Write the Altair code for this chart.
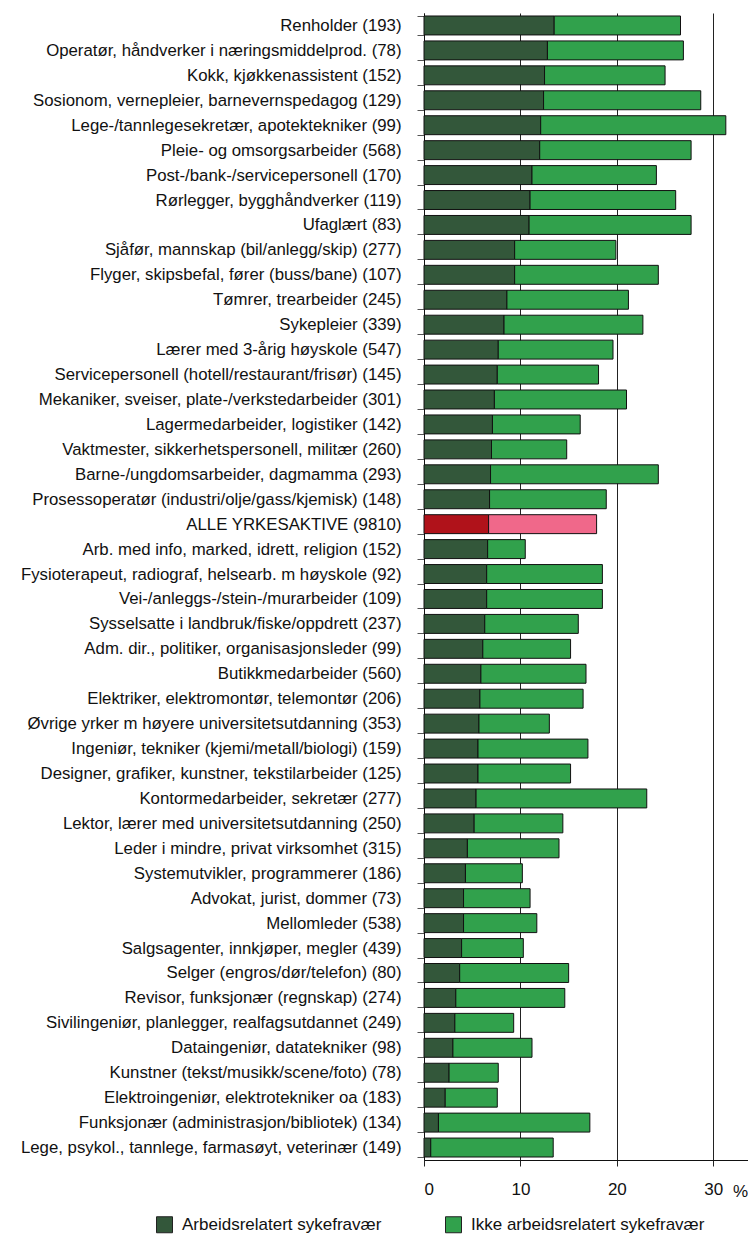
import altair as alt
import pandas as pd

categories = [
    "Renholder (193)",
    "Operatør, håndverker i næringsmiddelprod. (78)",
    "Kokk, kjøkkenassistent (152)",
    "Sosionom, vernepleier, barnevernspedagog (129)",
    "Lege-/tannlegesekretær, apotektekniker (99)",
    "Pleie- og omsorgsarbeider (568)",
    "Post-/bank-/servicepersonell (170)",
    "Rørlegger, bygghåndverker (119)",
    "Ufaglært (83)",
    "Sjåfør, mannskap (bil/anlegg/skip) (277)",
    "Flyger, skipsbefal, fører (buss/bane) (107)",
    "Tømrer, trearbeider (245)",
    "Sykepleier (339)",
    "Lærer med 3-årig høyskole (547)",
    "Servicepersonell (hotell/restaurant/frisør) (145)",
    "Mekaniker, sveiser, plate-/verkstedarbeider (301)",
    "Lagermedarbeider, logistiker (142)",
    "Vaktmester, sikkerhetspersonell, militær (260)",
    "Barne-/ungdomsarbeider, dagmamma (293)",
    "Prosessoperatør (industri/olje/gass/kjemisk) (148)",
    "ALLE YRKESAKTIVE (9810)",
    "Arb. med info, marked, idrett, religion (152)",
    "Fysioterapeut, radiograf, helsearb. m høyskole (92)",
    "Vei-/anleggs-/stein-/murarbeider (109)",
    "Sysselsatte i landbruk/fiske/oppdrett (237)",
    "Adm. dir., politiker, organisasjonsleder (99)",
    "Butikkmedarbeider (560)",
    "Elektriker, elektromontør, telemontør (206)",
    "Øvrige yrker m høyere universitetsutdanning (353)",
    "Ingeniør, tekniker (kjemi/metall/biologi) (159)",
    "Designer, grafiker, kunstner, tekstilarbeider (125)",
    "Kontormedarbeider, sekretær (277)",
    "Lektor, lærer med universitetsutdanning (250)",
    "Leder i mindre, privat virksomhet (315)",
    "Systemutvikler, programmerer (186)",
    "Advokat, jurist, dommer (73)",
    "Mellomleder (538)",
    "Salgsagenter, innkjøper, megler (439)",
    "Selger (engros/dør/telefon) (80)",
    "Revisor, funksjonær (regnskap) (274)",
    "Sivilingeniør, planlegger, realfagsutdannet (249)",
    "Dataingeniør, datatekniker (98)",
    "Kunstner (tekst/musikk/scene/foto) (78)",
    "Elektroingeniør, elektrotekniker oa (183)",
    "Funksjonær (administrasjon/bibliotek) (134)",
    "Lege, psykol., tannlege, farmasøyt, veterinær (149)",
]

arbeidsrelatert = [
    13.5, 12.8, 12.5, 12.4, 12.1, 12.0, 11.2, 11.0, 10.9, 9.4,
    9.4, 8.6, 8.3, 7.7, 7.6, 7.3, 7.1, 7.0, 6.9, 6.8,
    6.7, 6.6, 6.5, 6.5, 6.3, 6.1, 5.9, 5.8, 5.7, 5.6,
    5.6, 5.4, 5.2, 4.5, 4.3, 4.1, 4.1, 3.9, 3.7, 3.3,
    3.2, 3.0, 2.6, 2.2, 1.5, 0.7,
]

ikke_arbeidsrelatert = [
    13.1, 14.1, 12.5, 16.3, 19.2, 15.7, 12.9, 15.1, 16.8, 10.5,
    14.9, 12.6, 14.4, 11.9, 10.5, 13.7, 9.1, 7.8, 17.4, 12.1,
    11.2, 3.9, 12.0, 12.0, 9.7, 9.1, 10.9, 10.7, 7.3, 11.4,
    9.6, 17.7, 9.2, 9.5, 5.9, 6.9, 7.6, 6.4, 11.3, 11.3,
    6.1, 8.2, 5.1, 5.4, 15.7, 12.7,
]

x_ticks = [0, 10, 20, 30]

series_names = ["Arbeidsrelatert sykefravær", "Ikke arbeidsrelatert sykefravær"]
total_row = "ALLE YRKESAKTIVE (9810)"
kinds = series_names + ["Alle: arbeidsrelatert", "Alle: ikke arbeidsrelatert"]
colors = ["#33573A", "#31A14C", "#B0121A", "#F0688A"]

rows = []
for c, a, b in zip(categories, arbeidsrelatert, ikke_arbeidsrelatert):
    is_total = c == total_row
    rows.append({"cat": c, "value": a, "o": 0,
                 "kind": kinds[2] if is_total else kinds[0]})
    rows.append({"cat": c, "value": b, "o": 1,
                 "kind": kinds[3] if is_total else kinds[1]})
df = pd.DataFrame(rows)

FONT = "Liberation Sans"

bars = alt.Chart(df).mark_bar(stroke="#111111", strokeWidth=1).encode(
    y=alt.Y(
        "cat:N",
        sort=categories,
        scale=alt.Scale(paddingInner=0.24, paddingOuter=0.12),
        axis=alt.Axis(
            title=None,
            tickBand="extent",
            tickSize=7,
            tickColor="#555555",
            labelPadding=16,
            labelFontSize=16.8,
            labelFont=FONT,
            labelColor="#111111",
            labelLimit=500,
            domainColor="#111111",
            grid=False,
        ),
    ),
    x=alt.X(
        "value:Q",
        stack="zero",
        scale=alt.Scale(domain=[0, 33.6], nice=False),
        axis=alt.Axis(
            title=None,
            values=x_ticks,
            grid=True,
            gridColor="#222222",
            gridOpacity=1,
            tickSize=6,
            tickColor="#222222",
            labelPadding=15,
            labelFontSize=17,
            labelFont=FONT,
            labelColor="#111111",
            domainColor="#111111",
        ),
    ),
    color=alt.Color(
        "kind:N",
        scale=alt.Scale(domain=kinds, range=colors),
        legend=alt.Legend(
            title=None,
            values=series_names,
            orient="none",
            direction="horizontal",
            legendX=-268,
            legendY=1203,
            symbolType="square",
            symbolSize=256,
            symbolStrokeColor="#222222",
            symbolStrokeWidth=1,
            symbolOpacity=1,
            labelFontSize=17,
            labelFont=FONT,
            labelColor="#111111",
            labelOffset=9,
            columnPadding=61,
            labelLimit=400,
        ),
    ),
    order=alt.Order("o:Q"),
)

pct = alt.Chart(alt.Data(values=[{"t": "%"}])).mark_text(
    font=FONT, fontSize=17, color="#111111", align="right", baseline="middle"
).encode(
    x=alt.value(324),
    y=alt.value(1179),
    text="t:N",
)

chart = alt.layer(bars, pct).properties(
    width=324,
    height=1147,
    padding={"left": 416, "top": 5, "right": 0, "bottom": 78},
    autosize=alt.AutoSizeParams(type="none"),
).configure_view(stroke=None)

chart.save("out.html", embed_options={"renderer": "svg", "actions": False})
